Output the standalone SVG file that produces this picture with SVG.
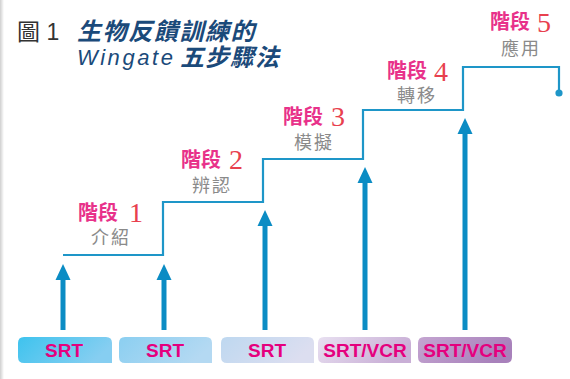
<svg xmlns="http://www.w3.org/2000/svg" width="570" height="379" viewBox="0 0 570 379">
<style>
.title{font-family:"Liberation Sans","Noto Sans CJK TC",sans-serif;fill:#1b4a7a;font-style:italic}
.stage{font-family:"Liberation Sans","Noto Sans CJK TC",sans-serif;font-weight:bold;font-size:20px;fill:#e8318a}
.num{font-family:"Liberation Serif",serif;font-size:28px;fill:#e8404e}
.sub{font-family:"Liberation Sans","Noto Sans CJK TC",sans-serif;font-size:18px;fill:#8a8a8a;letter-spacing:2px}
.box{font-family:"Liberation Sans",sans-serif;font-weight:bold;font-size:19px;fill:#e5007e;text-anchor:middle}
.stair{fill:none;stroke:#1e96c8;stroke-width:2.2}
.shaft{stroke:#0b8cc4;stroke-width:5}
.head{fill:#0b8cc4}
</style>
<defs>
<linearGradient id="edge" x1="0" x2="1" y1="0" y2="0"><stop offset="0" stop-color="#cfcfcf"/><stop offset="1" stop-color="#ffffff"/></linearGradient>
<linearGradient id="g1" x1="0" x2="1" y1="0" y2="0.3"><stop offset="0" stop-color="#3ec3ee"/><stop offset="1" stop-color="#86cef1"/></linearGradient>
<linearGradient id="g2" x1="0" x2="1" y1="0" y2="0.3"><stop offset="0" stop-color="#8bcff1"/><stop offset="1" stop-color="#b4d9f2"/></linearGradient>
<linearGradient id="g3" x1="0" x2="1" y1="0" y2="0.3"><stop offset="0" stop-color="#bed8f0"/><stop offset="1" stop-color="#dcdef0"/></linearGradient>
<linearGradient id="g4" x1="0" x2="1" y1="0" y2="0.3"><stop offset="0" stop-color="#e8e0f1"/><stop offset="1" stop-color="#c9afd6"/></linearGradient>
<linearGradient id="g5" x1="0" x2="1" y1="0" y2="0.3"><stop offset="0" stop-color="#c4a5d1"/><stop offset="1" stop-color="#a881bb"/></linearGradient>
</defs>
<rect x="0" y="0" width="570" height="379" fill="#ffffff"/>
<rect x="0" y="0" width="4" height="379" fill="url(#edge)"/>

<g id="title">
<text x="17" y="40" font-family="'Liberation Sans','Noto Sans CJK TC',sans-serif" font-size="23" fill="#333333">圖 1</text>
<text class="title" x="77" y="40" font-size="24" font-weight="bold" letter-spacing="1.6">生物反饋訓練的</text>
<text class="title" x="77" y="65" font-size="22" textLength="96" lengthAdjust="spacing">Wingate</text>
<text class="title" x="180" y="66" font-size="24" font-weight="bold" letter-spacing="1">五步驟法</text>
</g>

<g id="connectors">
<polyline class="stair" points="63,255 163,255 163,202 263,202 263,159 363,159 363,110 463,110 463,67 559,67 559,92"/>
<circle cx="559" cy="93" r="3.6" fill="#1e96c8"/>
<line class="shaft" x1="63" y1="278" x2="63" y2="330"/>
<polygon class="head" points="63,264 55.5,280 70.5,280"/>
<line class="shaft" x1="164" y1="278" x2="164" y2="330"/>
<polygon class="head" points="164,264 156.5,280 171.5,280"/>
<line class="shaft" x1="265" y1="224" x2="265" y2="330"/>
<polygon class="head" points="265,210 257.5,226 272.5,226"/>
<line class="shaft" x1="365" y1="181" x2="365" y2="330"/>
<polygon class="head" points="365,167 357.5,183 372.5,183"/>
<line class="shaft" x1="465" y1="132" x2="465" y2="330"/>
<polygon class="head" points="465,118 457.5,134 472.5,134"/>
</g>

<g id="stage1">
<text class="stage" x="78" y="220">階段</text>
<text class="num" x="129" y="222">1</text>
<text class="sub" x="91" y="244">介紹</text>
</g>
<g id="stage2">
<text class="stage" x="181" y="167">階段</text>
<text class="num" x="229" y="169">2</text>
<text class="sub" x="192" y="192">辨認</text>
</g>
<g id="stage3">
<text class="stage" x="283" y="124">階段</text>
<text class="num" x="331" y="126">3</text>
<text class="sub" x="294" y="149">模擬</text>
</g>
<g id="stage4">
<text class="stage" x="387" y="78">階段</text>
<text class="num" x="434" y="81">4</text>
<text class="sub" x="397" y="102">轉移</text>
</g>
<g id="stage5">
<text class="stage" x="490" y="29">階段</text>
<text class="num" x="537" y="32">5</text>
<text class="sub" x="501" y="55">應用</text>
</g>

<g id="box1">
<path d="M24,337 H106 Q112,337 112,343 V363 H24 Q18,363 18,357 V343 Q18,337 24,337 Z" fill="url(#g1)"/>
<text class="box" x="64" y="357">SRT</text>
</g>
<g id="box2">
<path d="M125,337 H206 Q212,337 212,343 V363 H125 Q119,363 119,357 V343 Q119,337 125,337 Z" fill="url(#g2)"/>
<text class="box" x="165" y="357">SRT</text>
</g>
<g id="box3">
<path d="M227,337 H308 Q314,337 314,343 V363 H227 Q221,363 221,357 V343 Q221,337 227,337 Z" fill="url(#g3)"/>
<text class="box" x="267" y="357">SRT</text>
</g>
<g id="box4">
<path d="M324,337 H405 Q411,337 411,343 V363 H324 Q318,363 318,357 V343 Q318,337 324,337 Z" fill="url(#g4)"/>
<text class="box" x="365" y="357">SRT/VCR</text>
</g>
<g id="box5">
<path d="M424,337 H506 Q512,337 512,343 V357 Q512,363 506,363 H424 Q418,363 418,357 V343 Q418,337 424,337 Z" fill="url(#g5)"/>
<text class="box" x="465" y="357">SRT/VCR</text>
</g>
</svg>
